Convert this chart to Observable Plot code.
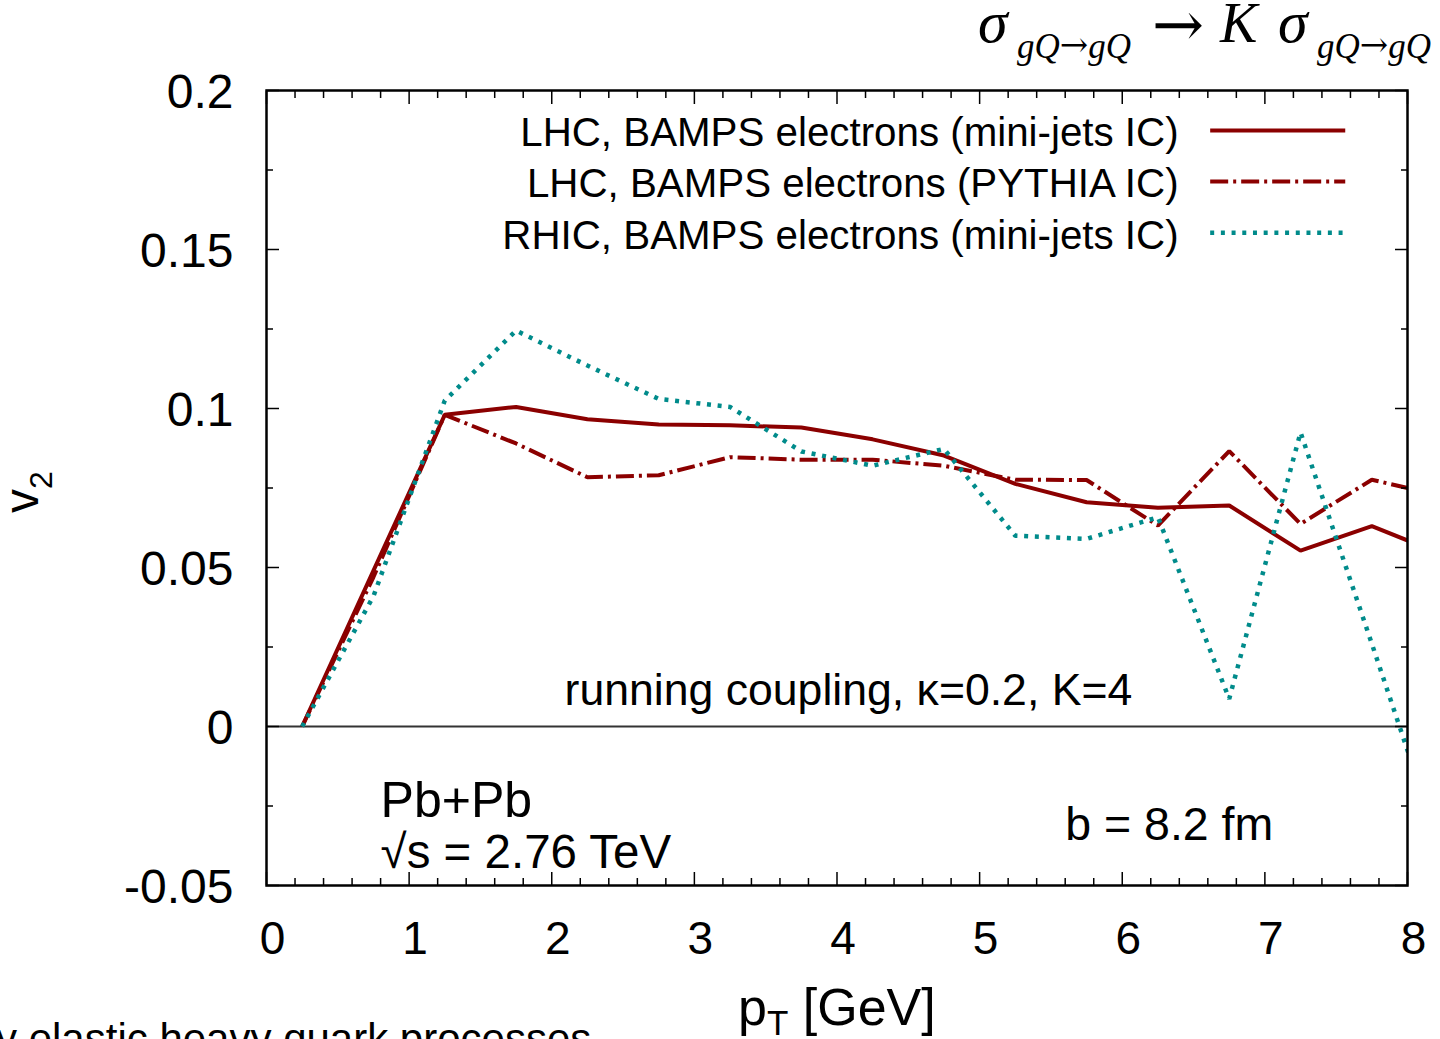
<!DOCTYPE html>
<html>
<head>
<meta charset="utf-8">
<script src="https://cdn.jsdelivr.net/npm/d3@7"></script>
<script src="https://cdn.jsdelivr.net/npm/@observablehq/plot@0.6"></script>
<style>
  html, body { margin: 0; padding: 0; background: #fff; overflow: hidden; }
  #chart { position: relative; width: 1440px; height: 1039px; }
</style>
</head>
<body>
<div id="chart"></div>
<script>
// ---- data ----
const pT = [0.25, 0.75, 1.25, 1.75, 2.25, 2.75, 3.25, 3.75, 4.25, 4.75, 5.25, 5.75, 6.25, 6.75, 7.25, 7.75, 8.25];
const lhcMiniJets = [0, 0.049, 0.098, 0.1005, 0.0966, 0.095, 0.0947, 0.094, 0.0903, 0.0852, 0.0763, 0.0705, 0.0688, 0.0695, 0.0553, 0.063, 0.054];
const lhcPythia   = [0, 0.047, 0.098, 0.089, 0.0784, 0.079, 0.0847, 0.0839, 0.0839, 0.082, 0.0776, 0.0775, 0.0632, 0.0866, 0.0637, 0.0776, 0.0724];
const rhicMiniJets = [0, 0.041, 0.1025, 0.1245, 0.1135, 0.103, 0.1005, 0.0865, 0.082, 0.0873, 0.060, 0.059, 0.0658, 0.0087, 0.0925, 0.026, -0.041];

const seriesNames = [
  "LHC, BAMPS electrons (mini-jets IC)",
  "LHC, BAMPS electrons (PYTHIA IC)",
  "RHIC, BAMPS electrons (mini-jets IC)"
];
const xTicks = [0, 1, 2, 3, 4, 5, 6, 7, 8];
const yTicks = [-0.05, 0, 0.05, 0.1, 0.15, 0.2];
const xMinorTicks = d3.range(0, 8.0001, 0.2).filter(v => Math.abs(v - Math.round(v)) > 1e-6);
const yMinorTicks = [-0.025, 0.025, 0.075, 0.125, 0.175];

// ---- styles ----
const darkRed = "#8b0000";
const teal = "#008b8b";
const styles = [
  {stroke: darkRed, strokeWidth: 4, strokeDasharray: null, strokeLinecap: "butt"},
  {stroke: darkRed, strokeWidth: 4, strokeDasharray: "18,5,3,5", strokeLinecap: "butt"},
  {stroke: teal, strokeWidth: 4.5, strokeDasharray: "4,6.7", strokeLinecap: "butt"}
];
const seriesValues = [lhcMiniJets, lhcPythia, rhicMiniJets];
const tables = seriesValues.map(vals => pT.map((x, i) => ({x, y: vals[i]})));

// legend layout (in plot data units)
const legendTextX = 6.395, legendLineX1 = 6.62, legendLineX2 = 7.567;
const legendY = [0.1874, 0.1714, 0.1553];
const legendRows = seriesNames.map((name, i) => ({name, y: legendY[i], i}));

const font = "Liberation Sans, Arial, Helvetica, sans-serif";
const MAJ = 13, MIN = 7;

const chart = Plot.plot({
  width: 1440,
  height: 1039,
  marginLeft: 266,
  marginRight: 33,
  marginTop: 90,
  marginBottom: 154,
  style: {fontFamily: font, background: "#fff", color: "#000"},
  x: {domain: [0, 8]},
  y: {domain: [-0.05, 0.2]},
  marks: [
    Plot.ruleY([0], {stroke: "#333", strokeWidth: 2}),
    // data curves
    ...tables.map((t, i) => Plot.line(t, {x: "x", y: "y", clip: true, strokeLinejoin: "miter", ...styles[i]})),
    // inward ticks, four sides
    Plot.axisX(xTicks, {anchor: "bottom", tickSize: MAJ, dy: -MAJ, tickFormat: () => "", label: null, strokeWidth: 1.5}),
    Plot.axisX(xMinorTicks, {anchor: "bottom", tickSize: MIN, dy: -MIN, tickFormat: () => "", label: null, strokeWidth: 1.5}),
    Plot.axisX(xTicks, {anchor: "top", tickSize: MAJ, dy: MAJ, tickFormat: () => "", label: null, strokeWidth: 1.5}),
    Plot.axisX(xMinorTicks, {anchor: "top", tickSize: MIN, dy: MIN, tickFormat: () => "", label: null, strokeWidth: 1.5}),
    Plot.axisY(yTicks, {anchor: "left", tickSize: MAJ, dx: MAJ, tickFormat: () => "", label: null, strokeWidth: 1.5}),
    Plot.axisY(yMinorTicks, {anchor: "left", tickSize: MIN, dx: MIN, tickFormat: () => "", label: null, strokeWidth: 1.5}),
    Plot.axisY(yTicks, {anchor: "right", tickSize: MAJ, dx: -MAJ, tickFormat: () => "", label: null, strokeWidth: 1.5}),
    Plot.axisY(yMinorTicks, {anchor: "right", tickSize: MIN, dx: -MIN, tickFormat: () => "", label: null, strokeWidth: 1.5}),
    // tick labels
    Plot.axisX(xTicks, {anchor: "bottom", tickSize: 0, tickPadding: 36, dx: 6, fontSize: 46, label: null, tickFormat: d => String(d)}),
    Plot.axisY(yTicks, {anchor: "left", tickSize: 0, tickPadding: 33, dy: 2, fontSize: 48, label: null, tickFormat: d => String(d)}),
    Plot.frame({stroke: "#000", strokeWidth: 2.5}),
    // legend
    Plot.text(legendRows, {x: () => legendTextX, y: "y", text: "name", textAnchor: "end", lineAnchor: "middle", dy: 3, fontSize: 40.3, fill: "#000"}),
    ...legendRows.map(r => Plot.ruleY([r.y], {x1: legendLineX1, x2: legendLineX2, ...styles[r.i]})),
    // annotations
    Plot.text(["running coupling, \u03ba=0.2, K=4"], {x: () => 4.08, y: () => 0.0113, text: d => d, textAnchor: "middle", lineAnchor: "middle", fontSize: 44.6, fill: "#000"}),
    Plot.text(["Pb+Pb"], {x: () => 0.8, y: () => -0.0233, text: d => d, textAnchor: "start", lineAnchor: "middle", fontSize: 50, fill: "#000"}),
    Plot.text(["\u221as = 2.76 TeV"], {x: () => 0.8, y: () => -0.0396, text: d => d, textAnchor: "start", lineAnchor: "middle", fontSize: 47.5, fill: "#000"}),
    Plot.text(["b = 8.2 fm"], {x: () => 5.6, y: () => -0.0311, text: d => d, textAnchor: "start", lineAnchor: "middle", fontSize: 46.5, fill: "#000"})
  ]
});

document.getElementById("chart").appendChild(chart);
const svg = d3.select(chart);
svg.attr("overflow", "hidden");

// x axis label: p_T [GeV]
const xl = svg.append("text").attr("x", 738).attr("y", 1025).attr("text-anchor", "start")
  .attr("font-family", font).attr("font-size", 52).attr("fill", "#000");
xl.append("tspan").text("p");
xl.append("tspan").attr("font-size", 35).attr("dy", 10).text("T");
xl.append("tspan").attr("dy", -10).text(" [GeV]");

// y axis label: v_2
const yl = svg.append("text").attr("transform", "translate(38,513) rotate(-90)").attr("text-anchor", "start")
  .attr("font-family", font).attr("font-size", 48).attr("fill", "#000");
yl.append("tspan").text("v");
yl.append("tspan").attr("font-size", 32).attr("dy", 14).text("2");

// formula at the top right
const serif = "Liberation Serif, Times New Roman, serif";
const arrowFont = "DejaVu Serif, DejaVu Sans, serif";
function sigmaTerm(x0) {
  svg.append("text").attr("x", x0).attr("y", 42).attr("text-anchor", "start")
    .attr("font-family", serif).attr("font-size", 60).attr("font-style", "italic").attr("fill", "#000").text("\u03c3");
  const t = svg.append("text").attr("x", x0 + 39).attr("y", 58).attr("text-anchor", "start")
    .attr("font-family", serif).attr("font-size", 35).attr("font-style", "italic").attr("fill", "#000");
  t.append("tspan").text("gQ");
  t.append("tspan").attr("font-family", arrowFont).attr("font-style", "normal").attr("font-size", 34).attr("dy", -2).text("\u2192");
  t.append("tspan").attr("dy", 2).text("gQ");
}
sigmaTerm(978);
svg.append("text").attr("x", 1152).attr("y", 46).attr("text-anchor", "start").attr("font-family", arrowFont).attr("font-size", 62).attr("fill", "#000").text("\u2192");
svg.append("text").attr("x", 1220).attr("y", 42).attr("text-anchor", "start").attr("font-family", serif).attr("font-size", 56).attr("font-style", "italic").attr("fill", "#000").text("K");
sigmaTerm(1278);

// clipped slide text at the bottom-left
svg.append("text").attr("x", -4).attr("y", 1053).attr("text-anchor", "start").attr("font-family", font).attr("font-size", 42).attr("fill", "#000")
  .text("y elastic heavy quark processes");
</script>
</body>
</html>
